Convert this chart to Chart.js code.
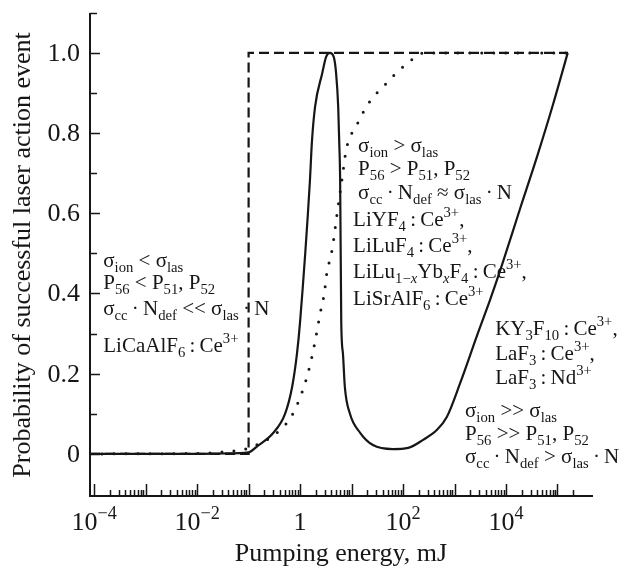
<!DOCTYPE html>
<html lang="en">
<head>
<meta charset="UTF-8" />
<title>Probability of successful laser action event</title>
<script src="https://cdn.jsdelivr.net/npm/chart.js"></script>
<style>
  html, body { margin: 0; padding: 0; background: #fff; }
</style>
</head>
<body>
<canvas id="laserChart" width="630" height="570"></canvas>
<script>
  // pumping energy (mJ) and probability
  const stepEnergy = [8.3e-5, 0.1, 0.1, 1.6e5];
  const stepProb   = [0, 0, 1, 1];

  const dotEnergy = [8.3e-5, 0.01, 0.032, 0.107, 0.166, 0.26, 0.65, 1.1, 1.55, 1.95, 2.45, 2.95, 3.3,
                     4.2, 5.25, 6.6, 7.9, 12.6, 18.2, 26.3, 40.7, 61.7, 138, 251, 1.6e5];
  const dotProb   = [0, 0.001, 0.005, 0.015, 0.027, 0.04, 0.09, 0.155, 0.22, 0.28, 0.35, 0.40, 0.45,
                     0.51, 0.60, 0.69, 0.76, 0.82, 0.86, 0.89, 0.915, 0.94, 0.98, 1.0, 1.0];

  const peakEnergy = [8.3e-5, 0.01, 0.032, 0.1, 0.15, 0.30, 0.51, 0.70, 0.87, 1.0, 1.55, 1.7, 1.95, 2.7,
                      3.2, 3.8, 4.5, 5.0, 5.5, 5.75, 6.0, 6.3, 6.8, 7.4, 9.3, 14.8, 26, 63, 126, 245,
                      457, 708, 1290, 2820, 4900, 8300, 18600, 39800, 81300, 158000];
  const peakProb   = [0, 0, 0.001, 0.004, 0.02, 0.052, 0.10, 0.167, 0.25, 0.33, 0.68, 0.78, 0.865, 0.95,
                      0.99, 1.0, 0.99, 0.95, 0.865, 0.78, 0.68, 0.33, 0.25, 0.167, 0.10, 0.052, 0.022, 0.012, 0.015, 0.035,
                      0.06, 0.092, 0.177, 0.30, 0.384, 0.47, 0.61, 0.74, 0.87, 1.0];

  const yMajor = [0, 0.2, 0.4, 0.6, 0.8, 1.0];
  const yMajorLabels = ['0', '0.2', '0.4', '0.6', '0.8', '1.0'];
  const yMinor = [0.1, 0.3, 0.5, 0.7, 0.9, 1.1];
  const xDecades = [1e-4, 1e-3, 1e-2, 1e-1, 1, 1e1, 1e2, 1e3, 1e4, 1e5];
  const xMinorSteps = [2, 3, 4, 5, 6, 7, 8, 9];
  const xLabelValues = [1e-4, 1e-2, 1, 1e2, 1e4];
  const xLabelBase = ['10', '10', '1', '10', '10'];
  const xLabelExp  = ['\u22124', '\u22122', '', '2', '4'];

  const serif = "'Liberation Serif', 'Times New Roman', serif";
  const ink = '#161616';

  // annotation text; '' = normal, 'b' = subscript, 'bi' = italic subscript, 'p' = superscript
  const th = '\u2009';
  const notes = [
    { at: [1.5e-4, 0.466], gaps: [0, 22, 48, 85], lines: [
      [['\u03c3'], ['ion', 'b'], [' < \u03c3'], ['las', 'b']],
      [['P'], ['56', 'b'], [' < P'], ['51', 'b'], [', P'], ['52', 'b']],
      [['\u03c3'], ['cc', 'b'], [th + '\u00b7' + th + 'N'], ['def', 'b'], [' << \u03c3'], ['las', 'b'], [th + '\u00b7' + th + 'N']],
      [['LiCaAlF'], ['6', 'b'], [th + ':' + th + 'Ce'], ['3+', 'p']]
    ]},
    { at: [13.4, 0.753], gaps: [0, 23, 47], lines: [
      [['\u03c3'], ['ion', 'b'], [' > \u03c3'], ['las', 'b']],
      [['P'], ['56', 'b'], [' > P'], ['51', 'b'], [', P'], ['52', 'b']],
      [['\u03c3'], ['cc', 'b'], [th + '\u00b7' + th + 'N'], ['def', 'b'], [' \u2248 \u03c3'], ['las', 'b'], [th + '\u00b7' + th + 'N']]
    ]},
    { at: [10.7, 0.569], gaps: [0, 26, 52, 79], lines: [
      [['LiYF'], ['4', 'b'], [th + ':' + th + 'Ce'], ['3+', 'p'], [',']],
      [['LiLuF'], ['4', 'b'], [th + ':' + th + 'Ce'], ['3+', 'p'], [',']],
      [['LiLu'], ['1\u2212', 'b'], ['x', 'bi'], ['Yb'], ['x', 'bi'], ['F'], ['4', 'b'], [th + ':' + th + 'Ce'], ['3+', 'p'], [',']],
      [['LiSrAlF'], ['6', 'b'], [th + ':' + th + 'Ce'], ['3+', 'p']]
    ]},
    { at: [6150, 0.297], gaps: [0, 25, 49], lines: [
      [['KY'], ['3', 'b'], ['F'], ['10', 'b'], [th + ':' + th + 'Ce'], ['3+', 'p'], [',']],
      [['LaF'], ['3', 'b'], [th + ':' + th + 'Ce'], ['3+', 'p'], [',']],
      [['LaF'], ['3', 'b'], [th + ':' + th + 'Nd'], ['3+', 'p']]
    ]},
    { at: [1600, 0.092], gaps: [0, 23, 46], lines: [
      [['\u03c3'], ['ion', 'b'], [' >> \u03c3'], ['las', 'b']],
      [['P'], ['56', 'b'], [' >> P'], ['51', 'b'], [', P'], ['52', 'b']],
      [['\u03c3'], ['cc', 'b'], [th + '\u00b7' + th + 'N'], ['def', 'b'], [' > \u03c3'], ['las', 'b'], [th + '\u00b7' + th + 'N']]
    ]}
  ];

  function drawRich(ctx, x, y, parts, size) {
    let cx = x;
    for (const [txt, kind = ''] of parts) {
      let s = size, dy = 0;
      if (kind === 'b' || kind === 'bi') { s = size * 0.7; dy = size * 0.24; }
      if (kind === 'p') { s = size * 0.7; dy = -size * 0.42; }
      ctx.font = (kind === 'bi' ? 'italic ' : '') + s + 'px ' + serif;
      ctx.fillText(txt, cx, y + dy);
      cx += ctx.measureText(txt).width;
    }
  }

  const axisDecor = {
    id: 'axisDecor',
    afterDraw(chart) {
      const { ctx, scales: { x, y }, chartArea: area } = chart;
      ctx.save();
      ctx.strokeStyle = ink;
      ctx.fillStyle = ink;
      ctx.lineWidth = 1.5;

      // ticks point into the plot
      ctx.beginPath();
      yMajor.forEach(v => { const py = Math.round(y.getPixelForValue(v)) + 0.5; ctx.moveTo(area.left, py); ctx.lineTo(area.left + 10, py); });
      yMinor.forEach(v => { const py = Math.round(y.getPixelForValue(v)) + 0.5; ctx.moveTo(area.left, py); ctx.lineTo(area.left + 7, py); });
      xDecades.forEach(d => {
        const px = Math.round(x.getPixelForValue(d)) + 0.5;
        ctx.moveTo(px, area.bottom); ctx.lineTo(px, area.bottom - 12);
        xMinorSteps.forEach(m => {
          const v = d * m;
          if (v > x.max || (d === 1e5 && m > 2)) return;
          const qx = Math.round(x.getPixelForValue(v)) + 0.5;
          ctx.moveTo(qx, area.bottom); ctx.lineTo(qx, area.bottom - 6);
        });
      });
      ctx.stroke();

      // y tick labels
      ctx.font = '26px ' + serif;
      ctx.textAlign = 'right';
      ctx.textBaseline = 'middle';
      yMajor.forEach((v, i) => ctx.fillText(yMajorLabels[i], area.left - 10, y.getPixelForValue(v) + 1));

      // x tick labels with superscript exponents
      ctx.textAlign = 'left';
      ctx.textBaseline = 'alphabetic';
      xLabelValues.forEach((v, i) => {
        ctx.font = '26px ' + serif;
        const wb = ctx.measureText(xLabelBase[i]).width;
        ctx.font = '18px ' + serif;
        const we = ctx.measureText(xLabelExp[i]).width;
        const left = x.getPixelForValue(v) - (wb + we) / 2;
        drawRich(ctx, left, 530, [[xLabelBase[i]], [xLabelExp[i], 'p']], 26);
      });

      // annotations
      notes.forEach(n => {
        const nx = x.getPixelForValue(n.at[0]);
        const ny = y.getPixelForValue(n.at[1]);
        n.lines.forEach((ln, i) => drawRich(ctx, nx, ny + n.gaps[i], ln, 21));
      });
      ctx.restore();
    }
  };

  const pts = (xs, ys) => xs.map((e, i) => ({ x: e, y: ys[i] }));

  new Chart(document.getElementById('laserChart'), {
    type: 'line',
    data: {
      datasets: [
        {
          label: 'peak',
          data: pts(peakEnergy, peakProb),
          borderColor: ink,
          borderWidth: 2.2,
          pointRadius: 0,
          cubicInterpolationMode: 'monotone'
        },
        {
          label: 'dotted',
          data: pts(dotEnergy, dotProb),
          borderColor: ink,
          borderWidth: 3,
          borderDash: [0, 12],
          borderCapStyle: 'round',
          pointRadius: 0,
          cubicInterpolationMode: 'monotone'
        },
        {
          label: 'step',
          data: pts(stepEnergy, stepProb),
          borderColor: ink,
          borderWidth: 2.2,
          borderDash: [10, 5],
          pointRadius: 0,
          tension: 0
        }
      ]
    },
    options: {
      responsive: false,
      animation: false,
      layout: { padding: { top: 14, right: 38, left: 0, bottom: 0 } },
      plugins: { legend: { display: false }, tooltip: { enabled: false } },
      scales: {
        x: {
          type: 'logarithmic',
          min: 8.3e-5,
          max: 4.68e5,
          ticks: { display: false },
          grid: { display: false },
          border: { display: true, color: ink, width: 2 },
          title: {
            display: true,
            text: 'Pumping energy, mJ',
            color: ink,
            font: { family: serif, size: 26 },
            padding: { top: 0, bottom: 0 }
          },
          afterFit: s => { s.height = 74; }
        },
        y: {
          min: -0.105,
          max: 1.097,
          ticks: { display: false },
          grid: { display: false },
          border: { display: true, color: ink, width: 2 },
          title: {
            display: true,
            text: 'Probability of successful laser action event',
            color: ink,
            font: { family: serif, size: 26 },
            padding: { top: 8, bottom: 0 }
          },
          afterFit: s => { s.width = 90; }
        }
      }
    },
    plugins: [axisDecor]
  });
</script>
</body>
</html>
